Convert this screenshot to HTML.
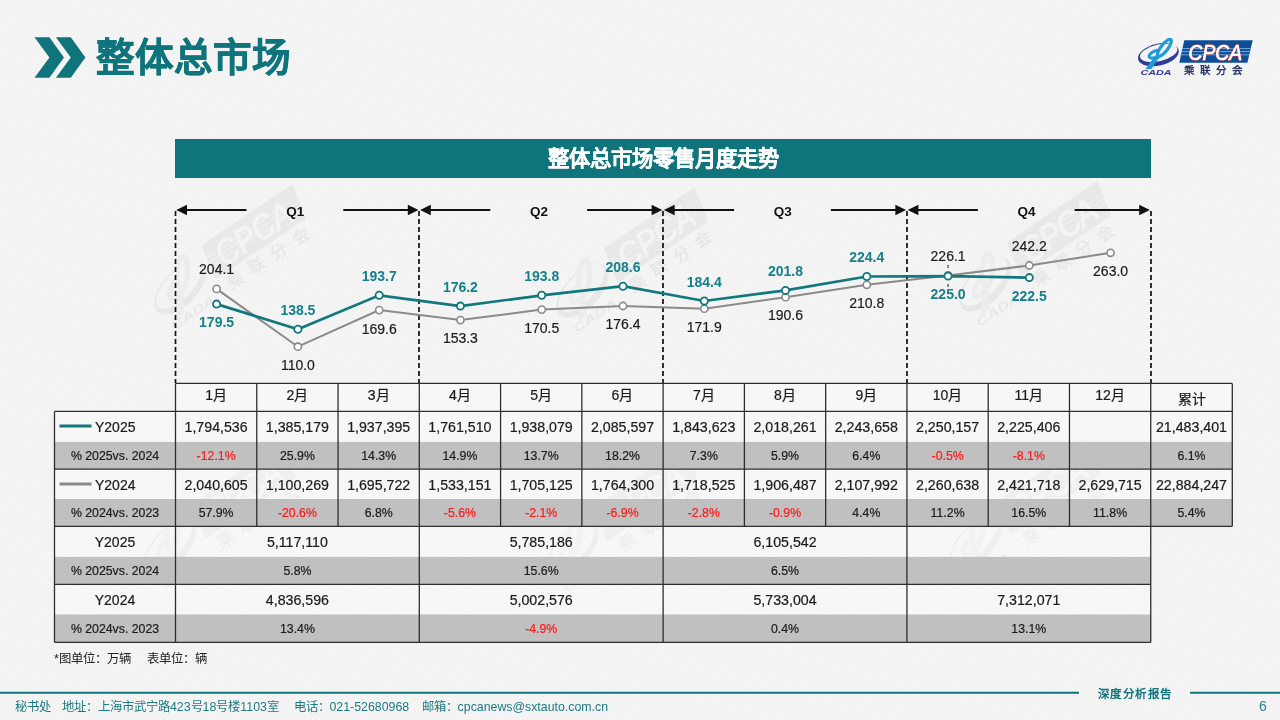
<!DOCTYPE html>
<html lang="zh-CN"><head><meta charset="utf-8">
<style>
html,body{margin:0;padding:0;}
body{width:1280px;height:720px;overflow:hidden;position:relative;
font-family:"Liberation Sans",sans-serif;
background:#f3f3f3;
background-image:repeating-linear-gradient(-38deg, #f8f8f8 0px, #efefef 1.3px, #f8f8f8 2.6px);
}
.abs{position:absolute;white-space:nowrap;}
#hdr{left:95.5px;top:29.6px;font-size:38.5px;font-weight:bold;-webkit-text-stroke:0.6px #0f747b;color:#0f747b;line-height:56px;letter-spacing:0px;}
#bar{left:175px;top:139px;width:976px;height:39px;background:#0f747b;}
#bartxt{left:175px;top:139.6px;width:976px;height:39px;line-height:39px;text-align:center;color:#fff;font-size:21.3px;font-weight:bold;-webkit-text-stroke:0.3px #fff;}
.foot{top:698px;font-size:12.35px;color:#1d7a80;line-height:18px;}
.note{top:650px;font-size:12.4px;color:#222;line-height:18px;}
svg text{font-family:"Liberation Sans",sans-serif;}
</style></head><body>
<svg class="abs" style="left:0;top:0" width="1280" height="720" viewBox="0 0 1280 720">
<defs>
<g id="logo">
 <g transform="rotate(-13 1158.4 54.7)"><path fill-rule="evenodd" fill="#2f3b97" d="M1137.6,54.7 a20.8,10.9 0 1,0 41.6,0 a20.8,10.9 0 1,0 -41.6,0 Z M1140.0,53.0 a19.1,8.3 0 1,0 38.2,0 a19.1,8.3 0 1,0 -38.2,0 Z"/></g>
 <path fill="#1e9bd8" d="M1145.4,69.0 L1151.6,69.0 C1154.5,64 1157.5,59.5 1160.8,56.0 L1156.0,54.8 C1152.6,59.2 1149,64.5 1145.4,69.0 Z"/>
 <ellipse cx="1164.4" cy="47.8" rx="10.4" ry="3.4" transform="rotate(-52 1164.4 47.8)" fill="none" stroke="#1e9bd8" stroke-width="3.2"/>
 <path fill="none" stroke="#1e9bd8" stroke-width="3" d="M1158.5,56.8 C1153,58.8 1148.2,58.4 1149.2,55.5 C1150.2,52.6 1154,51 1158,50.2"/>
 <text x="1140.5" y="74.8" font-size="7.6" font-weight="bold" font-style="italic" fill="#2f3b97" textLength="31" lengthAdjust="spacingAndGlyphs">CADA</text>
 <polygon points="1184.3,40.2 1252.7,40.2 1247.4,62.8 1179.3,62.8" fill="#0b4f98"/>
 <line x1="1181.8" y1="48.6" x2="1250.6" y2="48.6" stroke="#7aa6d2" stroke-width="1"/>
 <line x1="1181.1" y1="51.6" x2="1249.9" y2="51.6" stroke="#7aa6d2" stroke-width="1"/>
 <line x1="1180.3" y1="54.8" x2="1249.1" y2="54.8" stroke="#7aa6d2" stroke-width="1"/>
 <text x="1188.6" y="59.6" font-size="21.5" font-style="italic" fill="#c8383c" stroke="#c8383c" stroke-width="1.5" textLength="53.5" lengthAdjust="spacingAndGlyphs">CPCA</text>
 <text x="1188.6" y="59.6" font-size="21.5" font-style="italic" fill="#fff" stroke="#fff" stroke-width="0.7" textLength="53.5" lengthAdjust="spacingAndGlyphs">CPCA</text>
 <text x="1184" y="73.9" font-size="10.5" font-weight="bold" fill="#2b3668" letter-spacing="5.9">乘联分会</text>
</g>
</defs>
<g opacity="0.06" style="filter:grayscale(1)"><use href="#logo" transform="translate(253.8,233) rotate(-34) scale(1.6) translate(-1215.5,-52.1)"/><use href="#logo" transform="translate(656,236) rotate(-34) scale(1.6) translate(-1215.5,-52.1)"/><use href="#logo" transform="translate(1058.9,230) rotate(-34) scale(1.6) translate(-1215.5,-52.1)"/><use href="#logo" transform="translate(243.8,492) rotate(-34) scale(1.6) translate(-1215.5,-52.1)"/><use href="#logo" transform="translate(646,495) rotate(-34) scale(1.6) translate(-1215.5,-52.1)"/><use href="#logo" transform="translate(1048.9,489) rotate(-34) scale(1.6) translate(-1215.5,-52.1)"/></g>
<use href="#logo"/>
<polygon points="34.5,37.3 49.4,37.3 64,57.5 49.4,77.7 34.5,77.7 49.4,57.5" fill="#0f747b"/>
<polygon points="55.9,37.3 70.8,37.3 85.4,57.5 70.8,77.7 55.9,77.7 70.8,57.5" fill="#0f747b"/>
<line x1="0" y1="692.7" x2="1079" y2="692.7" stroke="#0f747b" stroke-width="2"/>
<line x1="1190" y1="692.7" x2="1280" y2="692.7" stroke="#0f747b" stroke-width="2"/>
</svg>
<div class="abs" id="hdr">整体总市场</div>
<div class="abs" id="bar"></div>
<div class="abs" id="bartxt">整体总市场零售月度走势</div>
<svg class="abs" style="left:0;top:0" width="1280" height="720" viewBox="0 0 1280 720">
<line x1="175.5" y1="211" x2="175.5" y2="383" stroke="#111" stroke-width="1.7" stroke-dasharray="5 3"/>
<line x1="419.0" y1="211" x2="419.0" y2="383" stroke="#111" stroke-width="1.7" stroke-dasharray="5 3"/>
<line x1="663.0" y1="211" x2="663.0" y2="383" stroke="#111" stroke-width="1.7" stroke-dasharray="5 3"/>
<line x1="907.0" y1="211" x2="907.0" y2="383" stroke="#111" stroke-width="1.7" stroke-dasharray="5 3"/>
<line x1="1151.0" y1="211" x2="1151.0" y2="383" stroke="#111" stroke-width="1.7" stroke-dasharray="5 3"/>
<line x1="185.5" y1="210" x2="246.5" y2="210" stroke="#111" stroke-width="2"/>
<polygon points="176.3,210 187.0,204.8 187.0,215.2" fill="#111"/>
<line x1="343.3" y1="210" x2="409.3" y2="210" stroke="#111" stroke-width="2"/>
<polygon points="418.5,210 407.8,204.8 407.8,215.2" fill="#111"/>
<text x="295.2" y="216" font-size="13.5" font-weight="bold" text-anchor="middle" fill="#111">Q1</text>
<line x1="429.3" y1="210" x2="490.3" y2="210" stroke="#111" stroke-width="2"/>
<polygon points="420.1,210 430.8,204.8 430.8,215.2" fill="#111"/>
<line x1="587.1" y1="210" x2="653.1" y2="210" stroke="#111" stroke-width="2"/>
<polygon points="662.3000000000001,210 651.6,204.8 651.6,215.2" fill="#111"/>
<text x="539.0" y="216" font-size="13.5" font-weight="bold" text-anchor="middle" fill="#111">Q2</text>
<line x1="673.1" y1="210" x2="734.1" y2="210" stroke="#111" stroke-width="2"/>
<polygon points="663.9,210 674.6,204.8 674.6,215.2" fill="#111"/>
<line x1="830.9" y1="210" x2="896.9" y2="210" stroke="#111" stroke-width="2"/>
<polygon points="906.1,210 895.4,204.8 895.4,215.2" fill="#111"/>
<text x="782.8" y="216" font-size="13.5" font-weight="bold" text-anchor="middle" fill="#111">Q3</text>
<line x1="916.9" y1="210" x2="977.9" y2="210" stroke="#111" stroke-width="2"/>
<polygon points="907.6999999999999,210 918.4,204.8 918.4,215.2" fill="#111"/>
<line x1="1074.7" y1="210" x2="1140.7" y2="210" stroke="#111" stroke-width="2"/>
<polygon points="1149.9,210 1139.2,204.8 1139.2,215.2" fill="#111"/>
<text x="1026.6" y="216" font-size="13.5" font-weight="bold" text-anchor="middle" fill="#111">Q4</text>
<polyline points="216.6,288.9 297.9,346.7 379.2,310.1 460.4,320.1 541.7,309.6 623.0,306.0 704.3,308.7 785.5,297.2 866.8,284.8 948.1,275.4 1029.3,265.5 1110.6,252.8" fill="none" stroke="#8a8a8a" stroke-width="2"/>
<polyline points="216.6,304.1 297.9,329.2 379.2,295.3 460.4,306.1 541.7,295.3 623.0,286.2 704.3,301.0 785.5,290.4 866.8,276.5 948.1,276.1 1029.3,277.6" fill="none" stroke="#12787e" stroke-width="2.7"/>
<circle cx="216.6" cy="288.9" r="3.6" fill="#fff" stroke="#8a8a8a" stroke-width="1.6"/>
<circle cx="297.9" cy="346.7" r="3.6" fill="#fff" stroke="#8a8a8a" stroke-width="1.6"/>
<circle cx="379.2" cy="310.1" r="3.6" fill="#fff" stroke="#8a8a8a" stroke-width="1.6"/>
<circle cx="460.4" cy="320.1" r="3.6" fill="#fff" stroke="#8a8a8a" stroke-width="1.6"/>
<circle cx="541.7" cy="309.6" r="3.6" fill="#fff" stroke="#8a8a8a" stroke-width="1.6"/>
<circle cx="623.0" cy="306.0" r="3.6" fill="#fff" stroke="#8a8a8a" stroke-width="1.6"/>
<circle cx="704.3" cy="308.7" r="3.6" fill="#fff" stroke="#8a8a8a" stroke-width="1.6"/>
<circle cx="785.5" cy="297.2" r="3.6" fill="#fff" stroke="#8a8a8a" stroke-width="1.6"/>
<circle cx="866.8" cy="284.8" r="3.6" fill="#fff" stroke="#8a8a8a" stroke-width="1.6"/>
<circle cx="948.1" cy="275.4" r="3.6" fill="#fff" stroke="#8a8a8a" stroke-width="1.6"/>
<circle cx="1029.3" cy="265.5" r="3.6" fill="#fff" stroke="#8a8a8a" stroke-width="1.6"/>
<circle cx="1110.6" cy="252.8" r="3.6" fill="#fff" stroke="#8a8a8a" stroke-width="1.6"/>
<circle cx="216.6" cy="304.1" r="3.6" fill="#fff" stroke="#12787e" stroke-width="1.8"/>
<circle cx="297.9" cy="329.2" r="3.6" fill="#fff" stroke="#12787e" stroke-width="1.8"/>
<circle cx="379.2" cy="295.3" r="3.6" fill="#fff" stroke="#12787e" stroke-width="1.8"/>
<circle cx="460.4" cy="306.1" r="3.6" fill="#fff" stroke="#12787e" stroke-width="1.8"/>
<circle cx="541.7" cy="295.3" r="3.6" fill="#fff" stroke="#12787e" stroke-width="1.8"/>
<circle cx="623.0" cy="286.2" r="3.6" fill="#fff" stroke="#12787e" stroke-width="1.8"/>
<circle cx="704.3" cy="301.0" r="3.6" fill="#fff" stroke="#12787e" stroke-width="1.8"/>
<circle cx="785.5" cy="290.4" r="3.6" fill="#fff" stroke="#12787e" stroke-width="1.8"/>
<circle cx="866.8" cy="276.5" r="3.6" fill="#fff" stroke="#12787e" stroke-width="1.8"/>
<circle cx="948.1" cy="276.1" r="3.6" fill="#fff" stroke="#12787e" stroke-width="1.8"/>
<circle cx="1029.3" cy="277.6" r="3.6" fill="#fff" stroke="#12787e" stroke-width="1.8"/>
<line x1="948.0649999999999" y1="265" x2="948.0649999999999" y2="268" stroke="#555" stroke-width="1.4"/>
<line x1="948.0649999999999" y1="284" x2="948.0649999999999" y2="287" stroke="#555" stroke-width="1.4"/>
<text x="216.6" y="327" font-size="14" font-weight="bold" text-anchor="middle" fill="#16808a">179.5</text>
<text x="297.9" y="315" font-size="14" font-weight="bold" text-anchor="middle" fill="#16808a">138.5</text>
<text x="379.2" y="281" font-size="14" font-weight="bold" text-anchor="middle" fill="#16808a">193.7</text>
<text x="460.4" y="292" font-size="14" font-weight="bold" text-anchor="middle" fill="#16808a">176.2</text>
<text x="541.7" y="281" font-size="14" font-weight="bold" text-anchor="middle" fill="#16808a">193.8</text>
<text x="623.0" y="272" font-size="14" font-weight="bold" text-anchor="middle" fill="#16808a">208.6</text>
<text x="704.3" y="287" font-size="14" font-weight="bold" text-anchor="middle" fill="#16808a">184.4</text>
<text x="785.5" y="276" font-size="14" font-weight="bold" text-anchor="middle" fill="#16808a">201.8</text>
<text x="866.8" y="262" font-size="14" font-weight="bold" text-anchor="middle" fill="#16808a">224.4</text>
<text x="948.1" y="299" font-size="14" font-weight="bold" text-anchor="middle" fill="#16808a">225.0</text>
<text x="1029.3" y="301" font-size="14" font-weight="bold" text-anchor="middle" fill="#16808a">222.5</text>
<text x="216.6" y="274" font-size="14" text-anchor="middle" fill="#1c1c1c" stroke="#1c1c1c" stroke-width="0.2">204.1</text>
<text x="297.9" y="370" font-size="14" text-anchor="middle" fill="#1c1c1c" stroke="#1c1c1c" stroke-width="0.2">110.0</text>
<text x="379.2" y="334" font-size="14" text-anchor="middle" fill="#1c1c1c" stroke="#1c1c1c" stroke-width="0.2">169.6</text>
<text x="460.4" y="343" font-size="14" text-anchor="middle" fill="#1c1c1c" stroke="#1c1c1c" stroke-width="0.2">153.3</text>
<text x="541.7" y="333" font-size="14" text-anchor="middle" fill="#1c1c1c" stroke="#1c1c1c" stroke-width="0.2">170.5</text>
<text x="623.0" y="329" font-size="14" text-anchor="middle" fill="#1c1c1c" stroke="#1c1c1c" stroke-width="0.2">176.4</text>
<text x="704.3" y="332" font-size="14" text-anchor="middle" fill="#1c1c1c" stroke="#1c1c1c" stroke-width="0.2">171.9</text>
<text x="785.5" y="320" font-size="14" text-anchor="middle" fill="#1c1c1c" stroke="#1c1c1c" stroke-width="0.2">190.6</text>
<text x="866.8" y="308" font-size="14" text-anchor="middle" fill="#1c1c1c" stroke="#1c1c1c" stroke-width="0.2">210.8</text>
<text x="948.1" y="261" font-size="14" text-anchor="middle" fill="#1c1c1c" stroke="#1c1c1c" stroke-width="0.2">226.1</text>
<text x="1029.3" y="251" font-size="14" text-anchor="middle" fill="#1c1c1c" stroke="#1c1c1c" stroke-width="0.2">242.2</text>
<text x="1110.6" y="276" font-size="14" text-anchor="middle" fill="#1c1c1c" stroke="#1c1c1c" stroke-width="0.2">263.0</text>
<rect x="54.5" y="411.4" width="1177.8" height="30.5" fill="#fff" opacity="0.3"/>
<rect x="54.5" y="469.1" width="1177.8" height="29.899999999999977" fill="#fff" opacity="0.3"/>
<rect x="175.5" y="383.4" width="1056.8" height="28" fill="#fff" opacity="0.3"/>
<rect x="54.5" y="526.3" width="1096.24" height="30.600000000000023" fill="#fff" opacity="0.3"/>
<rect x="54.5" y="584.4" width="1096.24" height="30.0" fill="#fff" opacity="0.3"/>
<rect x="54.5" y="441.9" width="1177.8" height="27.200000000000045" fill="#c0c0c0"/>
<rect x="54.5" y="499.0" width="1177.8" height="27.299999999999955" fill="#c0c0c0"/>
<rect x="54.5" y="556.9" width="1096.24" height="27.5" fill="#c0c0c0"/>
<rect x="54.5" y="614.5" width="1096.24" height="27.799999999999955" fill="#c0c0c0"/>
<line x1="175.5" y1="383.4" x2="1232.3" y2="383.4" stroke="#2e2e2e" stroke-width="1.3"/>
<line x1="54.5" y1="411.4" x2="1232.3" y2="411.4" stroke="#2e2e2e" stroke-width="1.3"/>
<line x1="54.5" y1="469.1" x2="1232.3" y2="469.1" stroke="#2e2e2e" stroke-width="1.3"/>
<line x1="54.5" y1="526.3" x2="1232.3" y2="526.3" stroke="#2e2e2e" stroke-width="1.3"/>
<line x1="54.5" y1="584.4" x2="1150.74" y2="584.4" stroke="#2e2e2e" stroke-width="1.3"/>
<line x1="54.5" y1="642.3" x2="1150.74" y2="642.3" stroke="#2e2e2e" stroke-width="1.3"/>
<line x1="54.5" y1="411.4" x2="54.5" y2="642.3" stroke="#2e2e2e" stroke-width="1.3"/>
<line x1="175.5" y1="383.4" x2="175.5" y2="526.3" stroke="#2e2e2e" stroke-width="1.3"/>
<line x1="256.77" y1="383.4" x2="256.77" y2="526.3" stroke="#2e2e2e" stroke-width="1.3"/>
<line x1="338.03999999999996" y1="383.4" x2="338.03999999999996" y2="526.3" stroke="#2e2e2e" stroke-width="1.3"/>
<line x1="419.31" y1="383.4" x2="419.31" y2="526.3" stroke="#2e2e2e" stroke-width="1.3"/>
<line x1="500.58" y1="383.4" x2="500.58" y2="526.3" stroke="#2e2e2e" stroke-width="1.3"/>
<line x1="581.8499999999999" y1="383.4" x2="581.8499999999999" y2="526.3" stroke="#2e2e2e" stroke-width="1.3"/>
<line x1="663.12" y1="383.4" x2="663.12" y2="526.3" stroke="#2e2e2e" stroke-width="1.3"/>
<line x1="744.39" y1="383.4" x2="744.39" y2="526.3" stroke="#2e2e2e" stroke-width="1.3"/>
<line x1="825.66" y1="383.4" x2="825.66" y2="526.3" stroke="#2e2e2e" stroke-width="1.3"/>
<line x1="906.93" y1="383.4" x2="906.93" y2="526.3" stroke="#2e2e2e" stroke-width="1.3"/>
<line x1="988.1999999999999" y1="383.4" x2="988.1999999999999" y2="526.3" stroke="#2e2e2e" stroke-width="1.3"/>
<line x1="1069.4699999999998" y1="383.4" x2="1069.4699999999998" y2="526.3" stroke="#2e2e2e" stroke-width="1.3"/>
<line x1="1150.74" y1="383.4" x2="1150.74" y2="526.3" stroke="#2e2e2e" stroke-width="1.3"/>
<line x1="1232.3" y1="383.4" x2="1232.3" y2="526.3" stroke="#2e2e2e" stroke-width="1.3"/>
<line x1="175.5" y1="526.3" x2="175.5" y2="642.3" stroke="#2e2e2e" stroke-width="1.3"/>
<line x1="419.31" y1="526.3" x2="419.31" y2="642.3" stroke="#2e2e2e" stroke-width="1.3"/>
<line x1="663.12" y1="526.3" x2="663.12" y2="642.3" stroke="#2e2e2e" stroke-width="1.3"/>
<line x1="906.93" y1="526.3" x2="906.93" y2="642.3" stroke="#2e2e2e" stroke-width="1.3"/>
<line x1="1150.74" y1="526.3" x2="1150.74" y2="642.3" stroke="#2e2e2e" stroke-width="1.3"/>
<text x="216.1" y="400.3" font-size="14" text-anchor="middle" fill="#1c1c1c" stroke="#1c1c1c" stroke-width="0.22" font-weight="normal">1月</text>
<text x="297.4" y="400.3" font-size="14" text-anchor="middle" fill="#1c1c1c" stroke="#1c1c1c" stroke-width="0.22" font-weight="normal">2月</text>
<text x="378.7" y="400.3" font-size="14" text-anchor="middle" fill="#1c1c1c" stroke="#1c1c1c" stroke-width="0.22" font-weight="normal">3月</text>
<text x="459.9" y="400.3" font-size="14" text-anchor="middle" fill="#1c1c1c" stroke="#1c1c1c" stroke-width="0.22" font-weight="normal">4月</text>
<text x="541.2" y="400.3" font-size="14" text-anchor="middle" fill="#1c1c1c" stroke="#1c1c1c" stroke-width="0.22" font-weight="normal">5月</text>
<text x="622.5" y="400.3" font-size="14" text-anchor="middle" fill="#1c1c1c" stroke="#1c1c1c" stroke-width="0.22" font-weight="normal">6月</text>
<text x="703.8" y="400.3" font-size="14" text-anchor="middle" fill="#1c1c1c" stroke="#1c1c1c" stroke-width="0.22" font-weight="normal">7月</text>
<text x="785.0" y="400.3" font-size="14" text-anchor="middle" fill="#1c1c1c" stroke="#1c1c1c" stroke-width="0.22" font-weight="normal">8月</text>
<text x="866.3" y="400.3" font-size="14" text-anchor="middle" fill="#1c1c1c" stroke="#1c1c1c" stroke-width="0.22" font-weight="normal">9月</text>
<text x="947.6" y="400.3" font-size="14" text-anchor="middle" fill="#1c1c1c" stroke="#1c1c1c" stroke-width="0.22" font-weight="normal">10月</text>
<text x="1028.8" y="400.3" font-size="14" text-anchor="middle" fill="#1c1c1c" stroke="#1c1c1c" stroke-width="0.22" font-weight="normal">11月</text>
<text x="1110.1" y="400.3" font-size="14" text-anchor="middle" fill="#1c1c1c" stroke="#1c1c1c" stroke-width="0.22" font-weight="normal">12月</text>
<text x="1191.5" y="404.0" font-size="14" text-anchor="middle" fill="#1c1c1c" stroke="#1c1c1c" stroke-width="0.22" font-weight="normal">累计</text>
<text x="216.1" y="432.1" font-size="14.2" text-anchor="middle" fill="#1c1c1c" stroke="#1c1c1c" stroke-width="0.22" font-weight="normal">1,794,536</text>
<text x="216.1" y="459.9" font-size="12.3" text-anchor="middle" fill="#ff1a1a" stroke="#ff1a1a" stroke-width="0.22" font-weight="normal">-12.1%</text>
<text x="216.1" y="489.7" font-size="14.2" text-anchor="middle" fill="#1c1c1c" stroke="#1c1c1c" stroke-width="0.22" font-weight="normal">2,040,605</text>
<text x="216.1" y="516.9" font-size="12.3" text-anchor="middle" fill="#1c1c1c" stroke="#1c1c1c" stroke-width="0.22" font-weight="normal">57.9%</text>
<text x="297.4" y="432.1" font-size="14.2" text-anchor="middle" fill="#1c1c1c" stroke="#1c1c1c" stroke-width="0.22" font-weight="normal">1,385,179</text>
<text x="297.4" y="459.9" font-size="12.3" text-anchor="middle" fill="#1c1c1c" stroke="#1c1c1c" stroke-width="0.22" font-weight="normal">25.9%</text>
<text x="297.4" y="489.7" font-size="14.2" text-anchor="middle" fill="#1c1c1c" stroke="#1c1c1c" stroke-width="0.22" font-weight="normal">1,100,269</text>
<text x="297.4" y="516.9" font-size="12.3" text-anchor="middle" fill="#ff1a1a" stroke="#ff1a1a" stroke-width="0.22" font-weight="normal">-20.6%</text>
<text x="378.7" y="432.1" font-size="14.2" text-anchor="middle" fill="#1c1c1c" stroke="#1c1c1c" stroke-width="0.22" font-weight="normal">1,937,395</text>
<text x="378.7" y="459.9" font-size="12.3" text-anchor="middle" fill="#1c1c1c" stroke="#1c1c1c" stroke-width="0.22" font-weight="normal">14.3%</text>
<text x="378.7" y="489.7" font-size="14.2" text-anchor="middle" fill="#1c1c1c" stroke="#1c1c1c" stroke-width="0.22" font-weight="normal">1,695,722</text>
<text x="378.7" y="516.9" font-size="12.3" text-anchor="middle" fill="#1c1c1c" stroke="#1c1c1c" stroke-width="0.22" font-weight="normal">6.8%</text>
<text x="459.9" y="432.1" font-size="14.2" text-anchor="middle" fill="#1c1c1c" stroke="#1c1c1c" stroke-width="0.22" font-weight="normal">1,761,510</text>
<text x="459.9" y="459.9" font-size="12.3" text-anchor="middle" fill="#1c1c1c" stroke="#1c1c1c" stroke-width="0.22" font-weight="normal">14.9%</text>
<text x="459.9" y="489.7" font-size="14.2" text-anchor="middle" fill="#1c1c1c" stroke="#1c1c1c" stroke-width="0.22" font-weight="normal">1,533,151</text>
<text x="459.9" y="516.9" font-size="12.3" text-anchor="middle" fill="#ff1a1a" stroke="#ff1a1a" stroke-width="0.22" font-weight="normal">-5.6%</text>
<text x="541.2" y="432.1" font-size="14.2" text-anchor="middle" fill="#1c1c1c" stroke="#1c1c1c" stroke-width="0.22" font-weight="normal">1,938,079</text>
<text x="541.2" y="459.9" font-size="12.3" text-anchor="middle" fill="#1c1c1c" stroke="#1c1c1c" stroke-width="0.22" font-weight="normal">13.7%</text>
<text x="541.2" y="489.7" font-size="14.2" text-anchor="middle" fill="#1c1c1c" stroke="#1c1c1c" stroke-width="0.22" font-weight="normal">1,705,125</text>
<text x="541.2" y="516.9" font-size="12.3" text-anchor="middle" fill="#ff1a1a" stroke="#ff1a1a" stroke-width="0.22" font-weight="normal">-2.1%</text>
<text x="622.5" y="432.1" font-size="14.2" text-anchor="middle" fill="#1c1c1c" stroke="#1c1c1c" stroke-width="0.22" font-weight="normal">2,085,597</text>
<text x="622.5" y="459.9" font-size="12.3" text-anchor="middle" fill="#1c1c1c" stroke="#1c1c1c" stroke-width="0.22" font-weight="normal">18.2%</text>
<text x="622.5" y="489.7" font-size="14.2" text-anchor="middle" fill="#1c1c1c" stroke="#1c1c1c" stroke-width="0.22" font-weight="normal">1,764,300</text>
<text x="622.5" y="516.9" font-size="12.3" text-anchor="middle" fill="#ff1a1a" stroke="#ff1a1a" stroke-width="0.22" font-weight="normal">-6.9%</text>
<text x="703.8" y="432.1" font-size="14.2" text-anchor="middle" fill="#1c1c1c" stroke="#1c1c1c" stroke-width="0.22" font-weight="normal">1,843,623</text>
<text x="703.8" y="459.9" font-size="12.3" text-anchor="middle" fill="#1c1c1c" stroke="#1c1c1c" stroke-width="0.22" font-weight="normal">7.3%</text>
<text x="703.8" y="489.7" font-size="14.2" text-anchor="middle" fill="#1c1c1c" stroke="#1c1c1c" stroke-width="0.22" font-weight="normal">1,718,525</text>
<text x="703.8" y="516.9" font-size="12.3" text-anchor="middle" fill="#ff1a1a" stroke="#ff1a1a" stroke-width="0.22" font-weight="normal">-2.8%</text>
<text x="785.0" y="432.1" font-size="14.2" text-anchor="middle" fill="#1c1c1c" stroke="#1c1c1c" stroke-width="0.22" font-weight="normal">2,018,261</text>
<text x="785.0" y="459.9" font-size="12.3" text-anchor="middle" fill="#1c1c1c" stroke="#1c1c1c" stroke-width="0.22" font-weight="normal">5.9%</text>
<text x="785.0" y="489.7" font-size="14.2" text-anchor="middle" fill="#1c1c1c" stroke="#1c1c1c" stroke-width="0.22" font-weight="normal">1,906,487</text>
<text x="785.0" y="516.9" font-size="12.3" text-anchor="middle" fill="#ff1a1a" stroke="#ff1a1a" stroke-width="0.22" font-weight="normal">-0.9%</text>
<text x="866.3" y="432.1" font-size="14.2" text-anchor="middle" fill="#1c1c1c" stroke="#1c1c1c" stroke-width="0.22" font-weight="normal">2,243,658</text>
<text x="866.3" y="459.9" font-size="12.3" text-anchor="middle" fill="#1c1c1c" stroke="#1c1c1c" stroke-width="0.22" font-weight="normal">6.4%</text>
<text x="866.3" y="489.7" font-size="14.2" text-anchor="middle" fill="#1c1c1c" stroke="#1c1c1c" stroke-width="0.22" font-weight="normal">2,107,992</text>
<text x="866.3" y="516.9" font-size="12.3" text-anchor="middle" fill="#1c1c1c" stroke="#1c1c1c" stroke-width="0.22" font-weight="normal">4.4%</text>
<text x="947.6" y="432.1" font-size="14.2" text-anchor="middle" fill="#1c1c1c" stroke="#1c1c1c" stroke-width="0.22" font-weight="normal">2,250,157</text>
<text x="947.6" y="459.9" font-size="12.3" text-anchor="middle" fill="#ff1a1a" stroke="#ff1a1a" stroke-width="0.22" font-weight="normal">-0.5%</text>
<text x="947.6" y="489.7" font-size="14.2" text-anchor="middle" fill="#1c1c1c" stroke="#1c1c1c" stroke-width="0.22" font-weight="normal">2,260,638</text>
<text x="947.6" y="516.9" font-size="12.3" text-anchor="middle" fill="#1c1c1c" stroke="#1c1c1c" stroke-width="0.22" font-weight="normal">11.2%</text>
<text x="1028.8" y="432.1" font-size="14.2" text-anchor="middle" fill="#1c1c1c" stroke="#1c1c1c" stroke-width="0.22" font-weight="normal">2,225,406</text>
<text x="1028.8" y="459.9" font-size="12.3" text-anchor="middle" fill="#ff1a1a" stroke="#ff1a1a" stroke-width="0.22" font-weight="normal">-8.1%</text>
<text x="1028.8" y="489.7" font-size="14.2" text-anchor="middle" fill="#1c1c1c" stroke="#1c1c1c" stroke-width="0.22" font-weight="normal">2,421,718</text>
<text x="1028.8" y="516.9" font-size="12.3" text-anchor="middle" fill="#1c1c1c" stroke="#1c1c1c" stroke-width="0.22" font-weight="normal">16.5%</text>
<text x="1110.1" y="432.1" font-size="14.2" text-anchor="middle" fill="#1c1c1c" stroke="#1c1c1c" stroke-width="0.22" font-weight="normal"></text>
<text x="1110.1" y="459.9" font-size="12.3" text-anchor="middle" fill="#1c1c1c" stroke="#1c1c1c" stroke-width="0.22" font-weight="normal"></text>
<text x="1110.1" y="489.7" font-size="14.2" text-anchor="middle" fill="#1c1c1c" stroke="#1c1c1c" stroke-width="0.22" font-weight="normal">2,629,715</text>
<text x="1110.1" y="516.9" font-size="12.3" text-anchor="middle" fill="#1c1c1c" stroke="#1c1c1c" stroke-width="0.22" font-weight="normal">11.8%</text>
<text x="1191.5" y="432.1" font-size="14.2" text-anchor="middle" fill="#1c1c1c" stroke="#1c1c1c" stroke-width="0.22" font-weight="normal">21,483,401</text>
<text x="1191.5" y="459.9" font-size="12.3" text-anchor="middle" fill="#1c1c1c" stroke="#1c1c1c" stroke-width="0.22" font-weight="normal">6.1%</text>
<text x="1191.5" y="489.7" font-size="14.2" text-anchor="middle" fill="#1c1c1c" stroke="#1c1c1c" stroke-width="0.22" font-weight="normal">22,884,247</text>
<text x="1191.5" y="516.9" font-size="12.3" text-anchor="middle" fill="#1c1c1c" stroke="#1c1c1c" stroke-width="0.22" font-weight="normal">5.4%</text>
<line x1="59.5" y1="426" x2="91.5" y2="426" stroke="#12787e" stroke-width="3"/>
<line x1="59.5" y1="484" x2="91.5" y2="484" stroke="#8a8a8a" stroke-width="3"/>
<text x="95.0" y="432.1" font-size="14" text-anchor="start" fill="#1c1c1c" stroke="#1c1c1c" stroke-width="0.22" font-weight="normal">Y2025</text>
<text x="95.0" y="489.7" font-size="14" text-anchor="start" fill="#1c1c1c" stroke="#1c1c1c" stroke-width="0.22" font-weight="normal">Y2024</text>
<text x="115.0" y="459.9" font-size="12.3" text-anchor="middle" fill="#1c1c1c" stroke="#1c1c1c" stroke-width="0.22" font-weight="normal">% 2025vs. 2024</text>
<text x="115.0" y="516.9" font-size="12.3" text-anchor="middle" fill="#1c1c1c" stroke="#1c1c1c" stroke-width="0.22" font-weight="normal">% 2024vs. 2023</text>
<text x="115.0" y="546.9" font-size="14" text-anchor="middle" fill="#1c1c1c" stroke="#1c1c1c" stroke-width="0.22" font-weight="normal">Y2025</text>
<text x="115.0" y="575.0" font-size="12.3" text-anchor="middle" fill="#1c1c1c" stroke="#1c1c1c" stroke-width="0.22" font-weight="normal">% 2025vs. 2024</text>
<text x="115.0" y="605.0" font-size="14" text-anchor="middle" fill="#1c1c1c" stroke="#1c1c1c" stroke-width="0.22" font-weight="normal">Y2024</text>
<text x="115.0" y="632.5" font-size="12.3" text-anchor="middle" fill="#1c1c1c" stroke="#1c1c1c" stroke-width="0.22" font-weight="normal">% 2024vs. 2023</text>
<text x="297.4" y="546.9" font-size="14.2" text-anchor="middle" fill="#1c1c1c" stroke="#1c1c1c" stroke-width="0.22" font-weight="normal">5,117,110</text>
<text x="297.4" y="575.0" font-size="12.3" text-anchor="middle" fill="#1c1c1c" stroke="#1c1c1c" stroke-width="0.22" font-weight="normal">5.8%</text>
<text x="297.4" y="605.0" font-size="14.2" text-anchor="middle" fill="#1c1c1c" stroke="#1c1c1c" stroke-width="0.22" font-weight="normal">4,836,596</text>
<text x="297.4" y="632.5" font-size="12.3" text-anchor="middle" fill="#1c1c1c" stroke="#1c1c1c" stroke-width="0.22" font-weight="normal">13.4%</text>
<text x="541.2" y="546.9" font-size="14.2" text-anchor="middle" fill="#1c1c1c" stroke="#1c1c1c" stroke-width="0.22" font-weight="normal">5,785,186</text>
<text x="541.2" y="575.0" font-size="12.3" text-anchor="middle" fill="#1c1c1c" stroke="#1c1c1c" stroke-width="0.22" font-weight="normal">15.6%</text>
<text x="541.2" y="605.0" font-size="14.2" text-anchor="middle" fill="#1c1c1c" stroke="#1c1c1c" stroke-width="0.22" font-weight="normal">5,002,576</text>
<text x="541.2" y="632.5" font-size="12.3" text-anchor="middle" fill="#ff1a1a" stroke="#ff1a1a" stroke-width="0.22" font-weight="normal">-4.9%</text>
<text x="785.0" y="546.9" font-size="14.2" text-anchor="middle" fill="#1c1c1c" stroke="#1c1c1c" stroke-width="0.22" font-weight="normal">6,105,542</text>
<text x="785.0" y="575.0" font-size="12.3" text-anchor="middle" fill="#1c1c1c" stroke="#1c1c1c" stroke-width="0.22" font-weight="normal">6.5%</text>
<text x="785.0" y="605.0" font-size="14.2" text-anchor="middle" fill="#1c1c1c" stroke="#1c1c1c" stroke-width="0.22" font-weight="normal">5,733,004</text>
<text x="785.0" y="632.5" font-size="12.3" text-anchor="middle" fill="#1c1c1c" stroke="#1c1c1c" stroke-width="0.22" font-weight="normal">0.4%</text>
<text x="1028.8" y="546.9" font-size="14.2" text-anchor="middle" fill="#1c1c1c" stroke="#1c1c1c" stroke-width="0.22" font-weight="normal"></text>
<text x="1028.8" y="575.0" font-size="12.3" text-anchor="middle" fill="#1c1c1c" stroke="#1c1c1c" stroke-width="0.22" font-weight="normal"></text>
<text x="1028.8" y="605.0" font-size="14.2" text-anchor="middle" fill="#1c1c1c" stroke="#1c1c1c" stroke-width="0.22" font-weight="normal">7,312,071</text>
<text x="1028.8" y="632.5" font-size="12.3" text-anchor="middle" fill="#1c1c1c" stroke="#1c1c1c" stroke-width="0.22" font-weight="normal">13.1%</text>
</svg>
<div class="abs note" style="left:54px">*图单位：万辆</div><div class="abs note" style="left:147.4px">表单位：辆</div>
<div class="abs foot" style="left:14.6px">秘书处</div>
<div class="abs foot" style="left:62px">地址：上海市武宁路423号18号楼1103室</div>
<div class="abs foot" style="left:293.5px">电话：021-52680968</div>
<div class="abs foot" style="left:421.6px">邮箱：cpcanews@sxtauto.com.cn</div>
<div class="abs" style="left:1097.5px;top:684.5px;font-size:11.5px;color:#0f747b;font-weight:bold;letter-spacing:1.5px;line-height:18px;">深度分析报告</div>
<div class="abs" style="left:1259px;top:698px;font-size:14px;color:#2a7f86;line-height:16px;">6</div>
</body></html>
